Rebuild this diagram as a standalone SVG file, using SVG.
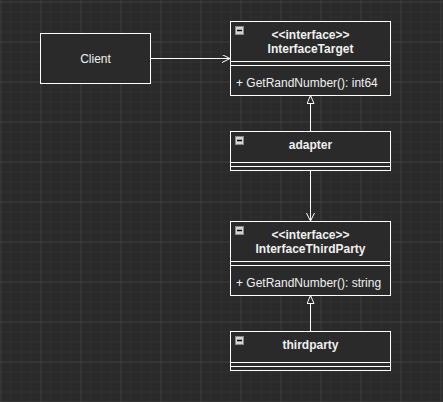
<svg xmlns="http://www.w3.org/2000/svg" width="443" height="402" viewBox="0 0 443 402">
<style>
.box{fill:#2a2a2a;stroke:#ffffff;stroke-width:1}
.ln{stroke:#ffffff;stroke-width:1;fill:none}
.t{font-family:"Liberation Sans",Arial,sans-serif;font-size:12px;fill:#f0f0f0}
.b{font-weight:bold;text-anchor:middle}
.c{text-anchor:middle}
.ic{fill:#d4d4d4;stroke:#888;stroke-width:1}
.icm{stroke:#000;stroke-width:1.5}
.conn{stroke:#ffffff;stroke-width:1;fill:none}
</style>
<defs>
<pattern id="minor" x="0.5" y="1.5" width="10" height="10" patternUnits="userSpaceOnUse">
<path d="M0 0V10M0 0H10" stroke="#363636" stroke-width="1" fill="none"/>
</pattern>
<pattern id="major" x="0.5" y="1.5" width="40" height="40" patternUnits="userSpaceOnUse">
<path d="M0 0V40M0 0H40" stroke="#474747" stroke-width="1" fill="none"/>
</pattern>
<marker id="open" markerWidth="10" markerHeight="10" refX="8" refY="4" orient="auto" markerUnits="userSpaceOnUse">
<path d="M0 0L8 4L0 8" fill="none" stroke="#ffffff" stroke-width="1"/>
</marker>
<marker id="tri" markerWidth="12" markerHeight="12" refX="8" refY="4" orient="auto" markerUnits="userSpaceOnUse">
<path d="M0 0.5L8 4L0 7.5Z" fill="#2a2a2a" stroke="#ffffff" stroke-width="1"/>
</marker>
</defs>
<rect width="443" height="402" fill="#2a2a2a"/>
<rect width="443" height="402" fill="url(#minor)"/>
<rect width="443" height="402" fill="url(#major)"/>

<g id="connectors">
<path class="conn" d="M150.5 58.5H230" marker-end="url(#open)"/>
<path class="conn" d="M310.5 131V95.5" marker-end="url(#tri)"/>
<path class="conn" d="M310.5 171V221" marker-end="url(#open)"/>
<path class="conn" d="M310.5 331V295.5" marker-end="url(#tri)"/>
</g>

<g id="client">
<rect class="box" x="40.5" y="33.5" width="110" height="50"/>
<text class="t c" x="95.5" y="62.5">Client</text>
</g>

<g id="interfaceTarget">
<rect class="box" x="230.5" y="21.5" width="160" height="74"/>
<path class="ln" d="M230.5 61.5H390.5M230.5 65.5H390.5"/>
<rect class="ic" x="235.5" y="26.5" width="8" height="8"/>
<path class="icm" d="M237 30.5H242"/>
<text class="t b" x="310.5" y="39">&lt;&lt;interface&gt;&gt;</text>
<text class="t b" x="310.5" y="53">InterfaceTarget</text>
<text class="t" x="236" y="87">+ GetRandNumber(): int64</text>
</g>

<g id="adapter">
<rect class="box" x="230.5" y="131.5" width="160" height="39"/>
<path class="ln" d="M230.5 162.5H390.5M230.5 166.5H390.5"/>
<rect class="ic" x="235.5" y="136.5" width="8" height="8"/>
<path class="icm" d="M237 140.5H242"/>
<text class="t b" x="310.5" y="149">adapter</text>
</g>

<g id="interfaceThirdParty">
<rect class="box" x="230.5" y="221.5" width="160" height="74"/>
<path class="ln" d="M230.5 261.5H390.5M230.5 265.5H390.5"/>
<rect class="ic" x="235.5" y="226.5" width="8" height="8"/>
<path class="icm" d="M237 230.5H242"/>
<text class="t b" x="310.5" y="239">&lt;&lt;interface&gt;&gt;</text>
<text class="t b" x="310.5" y="253">InterfaceThirdParty</text>
<text class="t" x="236" y="287">+ GetRandNumber(): string</text>
</g>

<g id="thirdparty">
<rect class="box" x="230.5" y="331.5" width="160" height="39"/>
<path class="ln" d="M230.5 362.5H390.5M230.5 366.5H390.5"/>
<rect class="ic" x="235.5" y="336.5" width="8" height="8"/>
<path class="icm" d="M237 340.5H242"/>
<text class="t b" x="310.5" y="349">thirdparty</text>
</g>
</svg>
